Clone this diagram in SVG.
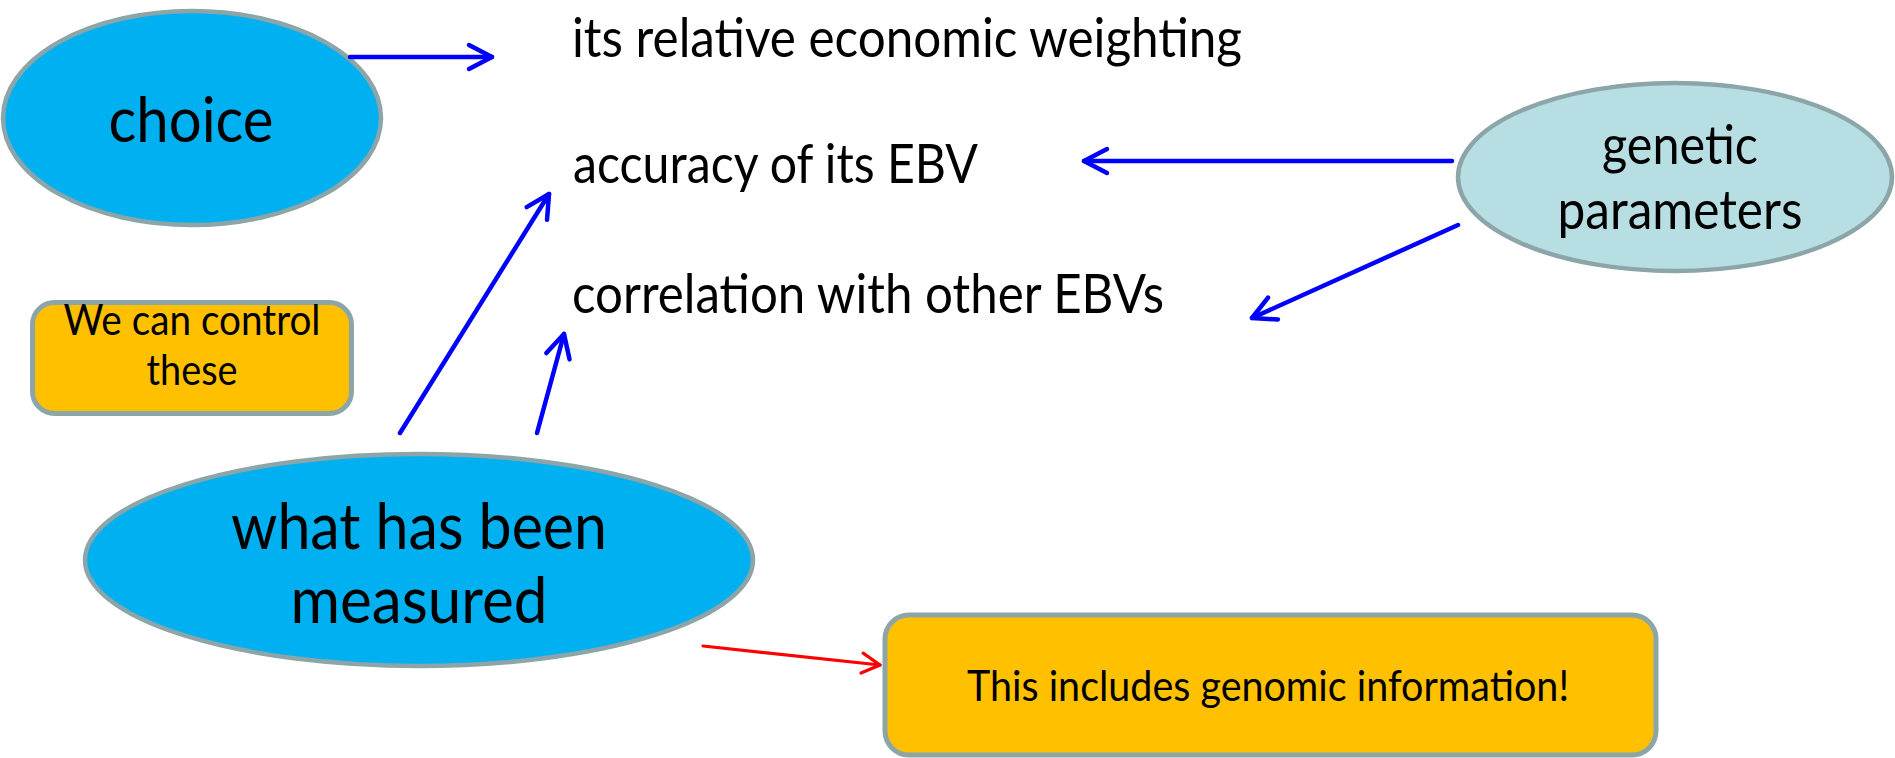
<svg xmlns="http://www.w3.org/2000/svg" width="1895" height="758" viewBox="0 0 1895 758">
  <style>
    .oval { fill: #00B0F0; stroke: #8CA5A8; stroke-width: 4.5; }
    .oval-light { fill: #B7DEE3; stroke: #8CA5A8; stroke-width: 4.5; }
    .note { fill: #FFC000; stroke: #8CA5A8; stroke-width: 5; }
    .lbl { font-family: Lato, "Liberation Sans", sans-serif; fill: #000000; }
    .blue { stroke: #0000FF; stroke-width: 4.5; stroke-linecap: round; fill: none; }
    .red { stroke: #FF0000; stroke-width: 3.2; stroke-linecap: round; fill: none; }
  </style>
  <defs>
    <marker id="headBlue" markerUnits="userSpaceOnUse" viewBox="-30 -20 36 40" markerWidth="36" markerHeight="40" refX="0" refY="0" orient="auto" overflow="visible">
      <path d="M-23,-12 L0,0 L-23,12" fill="none" stroke="#0000FF" stroke-width="4.5" stroke-linecap="round" stroke-linejoin="round"/>
    </marker>
    <marker id="headRed" markerUnits="userSpaceOnUse" viewBox="-30 -20 36 40" markerWidth="36" markerHeight="40" refX="0" refY="0" orient="auto" overflow="visible">
      <path d="M-18,-10 L0,0 L-18,10" fill="none" stroke="#FF0000" stroke-width="3.2" stroke-linecap="round" stroke-linejoin="round"/>
    </marker>
  </defs>

  <rect width="1895" height="758" fill="#FFFFFF"/>

  <!-- plain statements -->
  <g id="item-weighting">
    <text class="lbl" x="572" y="57" font-size="54" textLength="670" lengthAdjust="spacingAndGlyphs">its relative economic weighting</text>
  </g>
  <g id="item-accuracy">
    <text class="lbl" x="573" y="183" font-size="54" textLength="405" lengthAdjust="spacingAndGlyphs">accuracy of its EBV</text>
  </g>
  <g id="item-correlation">
    <text class="lbl" x="572" y="313" font-size="54" textLength="592" lengthAdjust="spacingAndGlyphs">correlation with other EBVs</text>
  </g>

  <!-- ovals -->
  <g id="node-choice">
    <ellipse class="oval" cx="192" cy="118" rx="189" ry="107"/>
    <text class="lbl" x="191" y="142" font-size="62" text-anchor="middle" textLength="165" lengthAdjust="spacingAndGlyphs">choice</text>
  </g>
  <g id="node-genetic">
    <ellipse class="oval-light" cx="1675" cy="177" rx="217" ry="94"/>
    <text class="lbl" x="1680" y="164" font-size="54" text-anchor="middle" textLength="156" lengthAdjust="spacingAndGlyphs">genetic</text>
    <text class="lbl" x="1680" y="229" font-size="54" text-anchor="middle" textLength="245" lengthAdjust="spacingAndGlyphs">parameters</text>
  </g>
  <g id="node-measured">
    <ellipse class="oval" cx="419" cy="560" rx="334" ry="106"/>
    <text class="lbl" x="419" y="549" font-size="64" text-anchor="middle" textLength="376" lengthAdjust="spacingAndGlyphs">what has been</text>
    <text class="lbl" x="419" y="623" font-size="64" text-anchor="middle" textLength="257" lengthAdjust="spacingAndGlyphs">measured</text>
  </g>

  <!-- notes -->
  <g id="note-control">
    <rect class="note" x="32.5" y="302.5" width="319" height="111" rx="22"/>
    <text class="lbl" x="192" y="335" font-size="42" text-anchor="middle" textLength="257" lengthAdjust="spacingAndGlyphs">We can control</text>
    <text class="lbl" x="192" y="385" font-size="42" text-anchor="middle" textLength="91" lengthAdjust="spacingAndGlyphs">these</text>
  </g>
  <g id="note-genomic">
    <rect class="note" x="885" y="615" width="771" height="140" rx="24"/>
    <text class="lbl" x="1268" y="701" font-size="42" text-anchor="middle" textLength="602" lengthAdjust="spacingAndGlyphs">This includes genomic information!</text>
  </g>

  <!-- connectors -->
  <g id="connectors">
    <line class="blue" x1="350" y1="57" x2="492" y2="57" marker-end="url(#headBlue)"/>
    <line class="blue" x1="1452" y1="161" x2="1084" y2="161" marker-end="url(#headBlue)"/>
    <line class="blue" x1="1458" y1="225" x2="1252" y2="318" marker-end="url(#headBlue)"/>
    <line class="blue" x1="400" y1="433" x2="549" y2="194" marker-end="url(#headBlue)"/>
    <line class="blue" x1="537" y1="433" x2="564" y2="334" marker-end="url(#headBlue)"/>
    <line class="red" x1="703" y1="646" x2="880" y2="665" marker-end="url(#headRed)"/>
  </g>
</svg>
